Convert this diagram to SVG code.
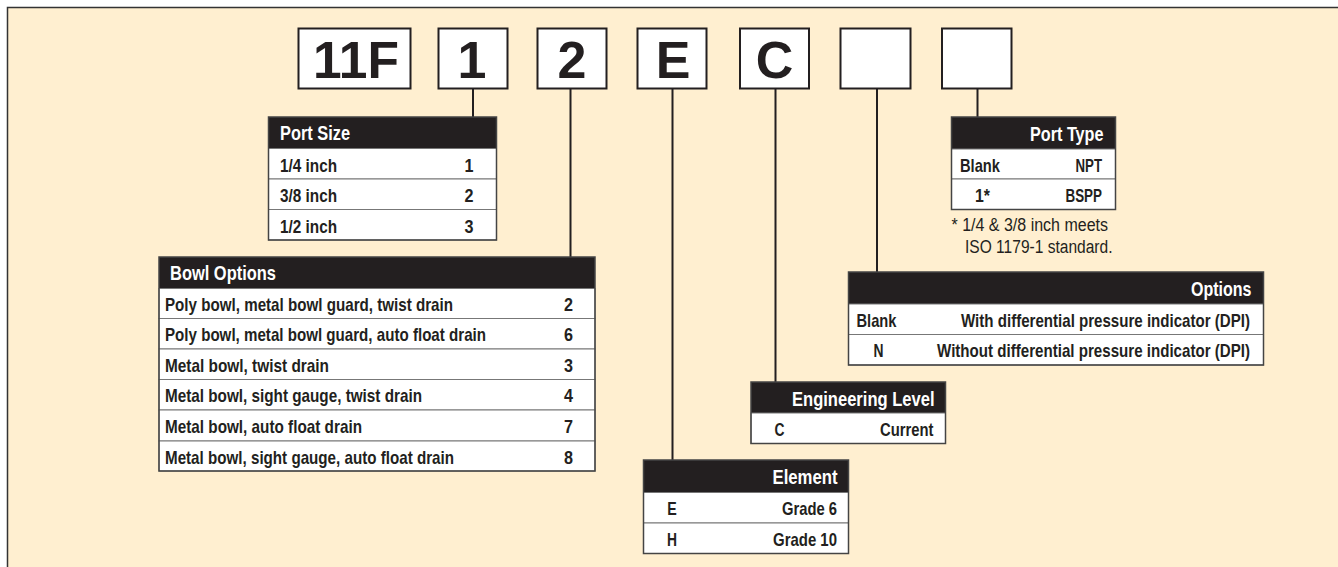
<svg xmlns="http://www.w3.org/2000/svg" width="1338" height="567" viewBox="0 0 1338 567">
<style>
.bg{fill:#FFEFD0;stroke:#333;stroke-width:1.5}
.box{fill:#fff;stroke:#231F20;stroke-width:2}
.big{font-family:"Liberation Sans",Arial,sans-serif;font-weight:bold;font-size:52px;fill:#231F20;text-anchor:middle}
.hd{fill:#231F20}
.row{fill:#fff;stroke:#777;stroke-width:1}
.frame{fill:none;stroke:#444;stroke-width:1.5}
.conn line{stroke:#231F20;stroke-width:2}
.t{font-family:"Liberation Sans",Arial,sans-serif;font-weight:bold;font-size:19px;fill:#231F20}
.h{font-family:"Liberation Sans",Arial,sans-serif;font-weight:bold;font-size:21px;fill:#fff}
.f{font-family:"Liberation Sans",Arial,sans-serif;font-size:18px;fill:#231F20}
.m{text-anchor:middle}
.e{text-anchor:end}
</style>
<rect class="bg" x="7.5" y="7.5" width="1340" height="570"/>

<g id="connectors" class="conn">
<line x1="473" y1="89" x2="473" y2="117"/>
<line x1="570.5" y1="89" x2="570.5" y2="257"/>
<line x1="672.5" y1="89" x2="672.5" y2="460"/>
<line x1="775.5" y1="89" x2="775.5" y2="382"/>
<line x1="877" y1="89" x2="877" y2="272"/>
<line x1="977.5" y1="89" x2="977.5" y2="117"/>
</g>

<g id="code-11F"><rect class="box" x="298.5" y="28.5" width="112" height="60"/><text class="big" x="356" y="77.5" textLength="86" lengthAdjust="spacingAndGlyphs">11F</text></g>
<g id="code-1"><rect class="box" x="438.5" y="28.5" width="69" height="60"/><text class="big" x="472" y="77.5">1</text></g>
<g id="code-2"><rect class="box" x="537.5" y="28.5" width="69" height="60"/><text class="big" x="572" y="77.5">2</text></g>
<g id="code-E"><rect class="box" x="637.5" y="28.5" width="69" height="60"/><text class="big" x="673" y="77.5">E</text></g>
<g id="code-C"><rect class="box" x="740" y="28.5" width="69" height="60"/><text class="big" x="774.5" y="77.5">C</text></g>
<g id="code-blank1"><rect class="box" x="840.5" y="28.5" width="70" height="60"/></g>
<g id="code-blank2"><rect class="box" x="942" y="28.5" width="69.5" height="60"/></g>

<g id="port-size">
<rect class="hd" x="268.5" y="117" width="228" height="31.5"/>
<rect class="row" x="268.5" y="148.5" width="228" height="30.5"/>
<rect class="row" x="268.5" y="179" width="228" height="30.5"/>
<rect class="row" x="268.5" y="209.5" width="228" height="30.5"/>
<rect class="frame" x="268.5" y="117" width="228" height="123"/>
<text class="h" x="280" y="139.5" textLength="70" lengthAdjust="spacingAndGlyphs">Port Size</text>
<text class="t" x="280" y="171.5" textLength="57" lengthAdjust="spacingAndGlyphs">1/4 inch</text><text class="t m" x="469" y="171.5" textLength="9" lengthAdjust="spacingAndGlyphs">1</text>
<text class="t" x="280" y="202" textLength="57" lengthAdjust="spacingAndGlyphs">3/8 inch</text><text class="t m" x="469" y="202" textLength="9" lengthAdjust="spacingAndGlyphs">2</text>
<text class="t" x="280" y="232.5" textLength="57" lengthAdjust="spacingAndGlyphs">1/2 inch</text><text class="t m" x="469" y="232.5" textLength="9" lengthAdjust="spacingAndGlyphs">3</text>
</g>

<g id="bowl-options">
<rect class="hd" x="159" y="257" width="436" height="31.5"/>
<rect class="row" x="159" y="288.5" width="436" height="30"/>
<rect class="row" x="159" y="318.5" width="436" height="30.5"/>
<rect class="row" x="159" y="349" width="436" height="30.5"/>
<rect class="row" x="159" y="379.5" width="436" height="30.5"/>
<rect class="row" x="159" y="410" width="436" height="31"/>
<rect class="row" x="159" y="441" width="436" height="30"/>
<rect class="frame" x="159" y="257" width="436" height="214"/>
<text class="h" x="170" y="279.5" textLength="106" lengthAdjust="spacingAndGlyphs">Bowl Options</text>
<text class="t" x="165" y="310.5" textLength="288" lengthAdjust="spacingAndGlyphs">Poly bowl, metal bowl guard, twist drain</text><text class="t m" x="568.5" y="310.5" textLength="9" lengthAdjust="spacingAndGlyphs">2</text>
<text class="t" x="165" y="341" textLength="321" lengthAdjust="spacingAndGlyphs">Poly bowl, metal bowl guard, auto float drain</text><text class="t m" x="568.5" y="341" textLength="9" lengthAdjust="spacingAndGlyphs">6</text>
<text class="t" x="165" y="371.5" textLength="164" lengthAdjust="spacingAndGlyphs">Metal bowl, twist drain</text><text class="t m" x="568.5" y="371.5" textLength="9" lengthAdjust="spacingAndGlyphs">3</text>
<text class="t" x="165" y="402" textLength="257" lengthAdjust="spacingAndGlyphs">Metal bowl, sight gauge, twist drain</text><text class="t m" x="568.5" y="402" textLength="9" lengthAdjust="spacingAndGlyphs">4</text>
<text class="t" x="165" y="433" textLength="197" lengthAdjust="spacingAndGlyphs">Metal bowl, auto float drain</text><text class="t m" x="568.5" y="433" textLength="9" lengthAdjust="spacingAndGlyphs">7</text>
<text class="t" x="165" y="463.5" textLength="289" lengthAdjust="spacingAndGlyphs">Metal bowl, sight gauge, auto float drain</text><text class="t m" x="568.5" y="463.5" textLength="9" lengthAdjust="spacingAndGlyphs">8</text>
</g>

<g id="element">
<rect class="hd" x="643.5" y="460" width="205" height="32.5"/>
<rect class="row" x="643.5" y="492.5" width="205" height="30.5"/>
<rect class="row" x="643.5" y="523" width="205" height="30.5"/>
<rect class="frame" x="643.5" y="460" width="205" height="93.5"/>
<text class="h e" x="837.5" y="484" textLength="65" lengthAdjust="spacingAndGlyphs">Element</text>
<text class="t m" x="672" y="515" textLength="9.5" lengthAdjust="spacingAndGlyphs">E</text><text class="t e" x="837" y="515" textLength="55" lengthAdjust="spacingAndGlyphs">Grade 6</text>
<text class="t m" x="672" y="545.5" textLength="10" lengthAdjust="spacingAndGlyphs">H</text><text class="t e" x="837" y="545.5" textLength="64" lengthAdjust="spacingAndGlyphs">Grade 10</text>
</g>

<g id="engineering-level">
<rect class="hd" x="751" y="382" width="194.5" height="31"/>
<rect class="row" x="751" y="413" width="194.5" height="30.5"/>
<rect class="frame" x="751" y="382" width="194.5" height="61.5"/>
<text class="h e" x="934.5" y="405.5" textLength="142.5" lengthAdjust="spacingAndGlyphs">Engineering Level</text>
<text class="t m" x="779.5" y="435.5" textLength="10" lengthAdjust="spacingAndGlyphs">C</text><text class="t e" x="933.5" y="435.5" textLength="53.5" lengthAdjust="spacingAndGlyphs">Current</text>
</g>

<g id="options">
<rect class="hd" x="848.5" y="272" width="415" height="32"/>
<rect class="row" x="848.5" y="304" width="415" height="30.5"/>
<rect class="row" x="848.5" y="334.5" width="415" height="30.5"/>
<rect class="frame" x="848.5" y="272" width="415" height="93"/>
<text class="h e" x="1251.5" y="295.5" textLength="60.5" lengthAdjust="spacingAndGlyphs">Options</text>
<text class="t" x="856.5" y="326.5" textLength="40" lengthAdjust="spacingAndGlyphs">Blank</text><text class="t e" x="1250" y="326.5" textLength="289" lengthAdjust="spacingAndGlyphs">With differential pressure indicator (DPI)</text>
<text class="t m" x="878.5" y="357" textLength="10" lengthAdjust="spacingAndGlyphs">N</text><text class="t e" x="1250" y="357" textLength="313" lengthAdjust="spacingAndGlyphs">Without differential pressure indicator (DPI)</text>
</g>

<g id="port-type">
<rect class="hd" x="951.5" y="117" width="164" height="32"/>
<rect class="row" x="951.5" y="149" width="164" height="30"/>
<rect class="row" x="951.5" y="179" width="164" height="30.5"/>
<rect class="frame" x="951.5" y="117" width="164" height="92.5"/>
<text class="h e" x="1103.5" y="140.5" textLength="73.5" lengthAdjust="spacingAndGlyphs">Port Type</text>
<text class="t" x="960" y="171.5" textLength="40" lengthAdjust="spacingAndGlyphs">Blank</text><text class="t e" x="1102" y="171.5" textLength="26.5" lengthAdjust="spacingAndGlyphs">NPT</text>
<text class="t m" x="982.5" y="202" textLength="15" lengthAdjust="spacingAndGlyphs">1*</text><text class="t e" x="1102" y="202" textLength="36.5" lengthAdjust="spacingAndGlyphs">BSPP</text>
<text class="f" x="951.5" y="230.5" textLength="156.5" lengthAdjust="spacingAndGlyphs">* 1/4 &amp; 3/8 inch meets</text>
<text class="f" x="965" y="252.5" textLength="147.5" lengthAdjust="spacingAndGlyphs">ISO 1179-1 standard.</text>
</g>
</svg>
